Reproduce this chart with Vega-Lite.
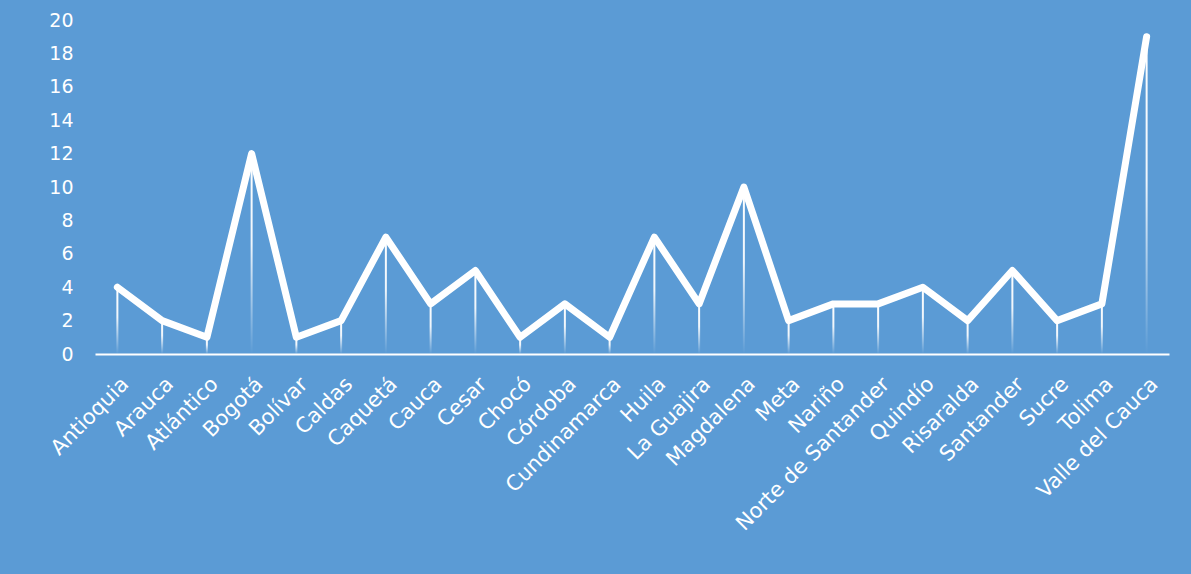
{
  "$schema": "https://vega.github.io/schema/vega-lite/v6.json",
  "width": 1074,
  "height": 334,
  "autosize": {"type": "none"},
  "padding": {"left": 95, "top": 20, "right": 22, "bottom": 220},
  "background": "#5B9BD5",
  "config": {
    "view": {"stroke": null},
    "font": "DejaVu Sans"
  },
  "data": {
    "values": [
      {"dep": "Antioquia", "v": 4},
      {"dep": "Arauca", "v": 2},
      {"dep": "Atlántico", "v": 1},
      {"dep": "Bogotá", "v": 12},
      {"dep": "Bolívar", "v": 1},
      {"dep": "Caldas", "v": 2},
      {"dep": "Caquetá", "v": 7},
      {"dep": "Cauca", "v": 3},
      {"dep": "Cesar", "v": 5},
      {"dep": "Chocó", "v": 1},
      {"dep": "Córdoba", "v": 3},
      {"dep": "Cundinamarca", "v": 1},
      {"dep": "Huila", "v": 7},
      {"dep": "La Guajira", "v": 3},
      {"dep": "Magdalena", "v": 10},
      {"dep": "Meta", "v": 2},
      {"dep": "Nariño", "v": 3},
      {"dep": "Norte de Santander", "v": 3},
      {"dep": "Quindío", "v": 4},
      {"dep": "Risaralda", "v": 2},
      {"dep": "Santander", "v": 5},
      {"dep": "Sucre", "v": 2},
      {"dep": "Tolima", "v": 3},
      {"dep": "Valle del Cauca", "v": 19}
    ]
  },
  "encoding": {
    "x": {
      "field": "dep",
      "type": "nominal",
      "sort": null,
      "scale": {"type": "point", "padding": 0.5},
      "axis": {
        "title": null,
        "labelAngle": -45,
        "labelColor": "white",
        "labelFont": "DejaVu Sans",
        "labelFontSize": 21,
        "labelPadding": 19,
        "labelLimit": 0,
        "ticks": false,
        "domainColor": "white",
        "domainWidth": 2,
        "grid": false,
        "labelOverlap": false
      }
    },
    "y": {
      "field": "v",
      "type": "quantitative",
      "scale": {"domain": [0, 20]},
      "axis": {
        "title": null,
        "values": [0, 2, 4, 6, 8, 10, 12, 14, 16, 18, 20],
        "labelColor": "white",
        "labelFont": "DejaVu Sans",
        "labelFontSize": 19,
        "labelPadding": 22,
        "ticks": false,
        "domain": false,
        "grid": false
      }
    }
  },
  "layer": [
    {
      "mark": {
        "type": "bar",
        "size": 2,
        "fill": {
          "gradient": "linear",
          "x1": 0, "y1": 0, "x2": 0, "y2": 1,
          "stops": [
            {"offset": 0, "color": "rgba(255,255,255,1)"},
            {"offset": 0.45, "color": "rgba(255,255,255,0.9)"},
            {"offset": 1, "color": "rgba(255,255,255,0)"}
          ]
        }
      },
      "encoding": {
        "y2": {"datum": 0}
      }
    },
    {
      "mark": {
        "type": "line",
        "color": "white",
        "strokeWidth": 7,
        "strokeCap": "round",
        "strokeJoin": "round"
      },
      "encoding": {}
    }
  ]
}
